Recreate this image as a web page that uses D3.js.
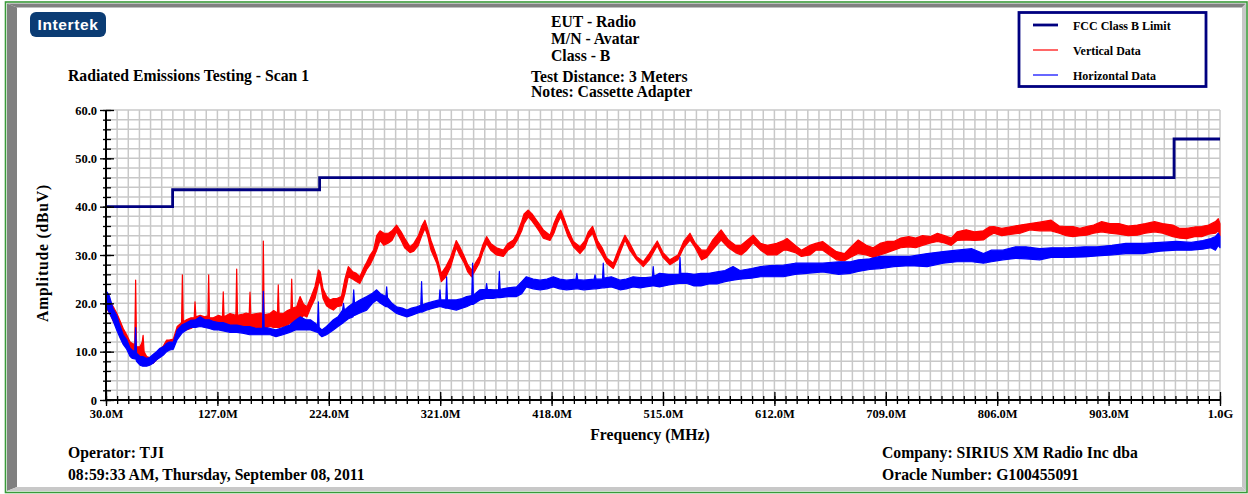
<!DOCTYPE html>
<html>
<head>
<meta charset="utf-8">
<script src="https://cdn.jsdelivr.net/npm/d3@7"></script>
<style>
  body { margin: 0; background: #fff; }
  svg text { font-family: "Liberation Serif", "Times New Roman", serif; font-weight: bold; fill: #000; }
</style>
</head>
<body>
<svg id="chart" width="1248" height="494"></svg>
<script>
// FCC Class B limit, dBuV, step after each frequency (MHz)
const limitFreq = [30, 88, 216, 960, 1000];
const limitLevel = [40, 43.5, 46, 54, 54];

// [MHz, low dBuV, high dBuV] envelope of the vertical scan
const verticalData = [
  [30,19.3,22.0],[31,18.8,21.8],[33,18.0,20.8],[35,17.0,19.8],[37,16.0,19.0],[39.3,15.2,18.0],[42,14.0,16.5],[45,12.8,14.8],
  [48,11.5,13.5],[51,10.3,12.0],[53,10.0,11.7],[55,9.7,11.5],[55.8,10.0,24.8],[56.6,9.5,11.0],[59.6,9.0,11.0],[61.5,8.8,12.0],
  [62.3,8.8,13.4],[63.2,8.2,10.0],[65.4,7.6,9.0],[68,7.4,8.8],[71,7.6,8.6],[74,8.3,9.6],[77,9.0,10.5],[80,9.7,11.2],
  [82.8,11.0,12.4],[85,10.8,12.4],[88.6,11.0,12.6],[92,13.8,15.2],[95.8,14.5,16.0],[96.5,14.5,25.9],[97.3,14.5,16.2],[100,14.5,16.6],
  [104,14.8,17.0],[106.8,15.2,17.0],[107.5,15.2,20.3],[108.3,15.2,17.2],[112,15.5,17.5],[116,15.2,17.2],[118.7,15.2,17.4],[119.4,15.2,25.9],
  [120.1,15.2,17.0],[123.4,15.0,17.0],[128,15.0,17.5],[131.4,15.0,17.2],[132.1,15.0,22.4],[132.8,15.0,17.2],[138,14.5,17.9],[143.1,15.0,17.5],
  [143.8,15.0,27.1],[144.5,15.0,17.5],[149.6,15.2,17.8],[152,15.0,18.0],[154.7,15.0,17.8],[155.4,15.0,22.3],[156.1,15.0,17.6],[161,14.5,17.9],
  [164,14.5,18.0],[166.3,14.8,18.0],[167,15.0,32.9],[167.7,14.8,17.6],[172.8,15.2,17.9],[176,15.0,18.5],[179.3,15.0,18.0],[180,15.0,23.8],
  [180.7,15.0,18.0],[184.4,15.2,17.9],[188,15.5,18.5],[191,16.0,18.8],[191.7,16.0,25.0],[192.4,16.0,19.0],[196,16.6,19.3],[199,16.5,21.4],
  [202,17.5,19.8],[205,17.2,19.3],[208,19.0,21.0],[212,21.0,23.5],[215,24.0,26.9],[216.5,24.5,26.5],[219,21.0,23.0],[222,19.5,21.5],
  [225,19.0,20.7],[228,18.6,21.0],[231,19.3,21.0],[235,19.5,21.4],[238,22.0,25.0],[241,25.5,27.6],[245,25.0,26.5],[248,24.5,26.2],
  [251,24.1,25.5],[255,26.0,27.6],[257,27.0,28.5],[260,28.0,30.0],[263,29.5,31.0],[265.7,31.0,34.0],[268.6,33.0,35.0],[272,32.0,34.5],
  [276,32.5,34.5],[279,33.0,35.0],[283,34.8,36.2],[287,33.0,34.8],[290,31.5,33.5],[294.7,30.5,31.7],[298,30.8,32.4],[302,32.0,34.0],
  [305,34.0,36.0],[307.7,35.5,37.2],[310,34.0,35.5],[313,31.0,33.0],[318,28.3,29.7],[322,24.5,26.2],[326,25.5,27.6],[330,27.5,29.5],
  [335,31.5,33.0],[338,30.0,31.7],[342,28.3,29.7],[345,26.5,28.0],[348.4,25.5,26.9],[352,27.0,28.5],[355,28.3,29.7],[358,30.5,32.0],
  [361.4,32.4,33.8],[365,31.0,32.4],[370,30.0,31.5],[376,29.7,31.0],[380,31.0,32.4],[384.7,31.7,33.1],[388,33.0,34.5],[392,35.0,37.0],
  [394,36.5,38.5],[397.7,37.9,39.3],[401,37.0,38.5],[404,36.0,37.5],[407,35.0,36.5],[410.8,33.5,35.2],[416.6,33.0,34.1],[420,34.5,36.5],
  [423,36.5,38.2],[425.9,37.9,39.3],[429,36.0,37.5],[432,34.0,35.5],[437,31.7,32.8],[442.7,30.3,31.7],[447,31.5,33.0],[450,33.5,34.8],
  [453.7,34.5,35.9],[458,31.5,33.0],[462,30.0,31.5],[466,28.3,29.4],[471.7,27.2,28.3],[476,29.5,31.0],[481.9,33.1,34.1],[486,31.0,32.4],
  [492,29.0,29.7],[497.8,27.6,28.6],[503,29.0,30.3],[510,31.9,32.9],[515,29.5,30.5],[521,28.0,29.0],[528,29.0,30.0],[533,31.5,32.8],
  [538.5,33.1,34.5],[543,31.5,32.5],[548.5,29.0,31.0],[553,29.5,31.0],[558,31.0,33.0],[565.6,33.1,35.2],[572,31.5,33.1],[578,30.5,32.0],
  [583,30.0,32.0],[588,31.0,33.0],[593.5,32.5,34.1],[600,31.0,32.4],[606,30.0,32.0],[614,30.0,32.4],[620,31.0,33.0],[623,31.0,33.4],
  [630,30.5,32.0],[635.5,29.7,31.0],[643,30.0,32.0],[648,31.0,32.4],[654,31.0,32.8],[660,30.0,31.7],[666,29.0,30.7],[673,28.8,30.3],
  [678,29.5,31.5],[685,30.3,33.1],[692,30.0,32.0],[698,29.5,31.5],[704,30.0,32.4],[710,30.5,32.8],[716,31.0,32.8],[722,31.5,33.5],
  [729,31.7,33.8],[735,31.5,33.5],[741,32.0,34.0],[748,32.5,33.8],[754,32.8,34.5],[760,32.5,34.0],[766,32.0,33.5],[771,33.0,34.8],
  [779,33.1,35.2],[786,33.0,34.8],[794,33.1,35.0],[799,34.0,35.8],[803,34.5,35.9],[810,34.0,35.5],[819,34.3,35.9],[826,34.5,36.2],
  [834.5,35.2,36.5],[843,35.0,36.8],[853,35.0,37.2],[860,34.5,36.0],[866,34.0,35.9],[872,33.8,35.9],[878,34.0,35.5],[884,34.1,35.9],
  [890,34.5,36.2],[897,34.8,36.9],[904,34.5,36.5],[912,34.3,36.5],[920,34.0,36.0],[928,34.1,36.2],[935,34.5,36.5],[943,34.8,36.9],
  [950,34.5,36.5],[959,33.8,36.2],[965,33.5,35.5],[971,33.4,35.5],[978,33.8,35.8],[984,33.8,35.9],[990,34.3,36.2],[996,34.5,36.9],
  [998.5,35.0,37.5],[1000,34.0,36.5]
];

// [MHz, low dBuV, high dBuV] envelope of the horizontal scan
const horizontalData = [
  [30,19.5,22.0],[31,19.0,22.3],[33,18.0,21.5],[36,16.5,19.0],[39.3,14.5,17.5],[42,13.0,15.5],[45,11.5,13.5],[48,10.5,12.5],
  [51,9.0,10.7],[53,8.6,10.3],[55,8.5,10.0],[55.8,8.6,15.0],[56.6,8.0,9.7],[59.6,7.2,9.0],[62,7.0,9.0],[65.4,7.0,8.6],
  [68,7.2,8.8],[71,7.6,9.4],[74,8.3,10.0],[77,8.8,10.7],[80,9.3,11.0],[82.8,10.0,11.7],[85,10.3,12.0],[88.6,10.5,12.0],
  [92,12.5,14.5],[96,13.8,15.5],[100,14.5,16.0],[104,15.0,16.5],[108,15.0,16.6],[112,15.2,17.2],[116,15.0,16.6],[120,14.8,16.6],
  [124,14.5,16.2],[128,14.5,16.0],[132,14.3,16.0],[138,14.0,15.5],[144,14.0,15.5],[150,13.8,15.2],[155,13.5,15.2],[161,13.5,14.8],
  [166.3,13.5,14.8],[167,13.5,22.5],[167.7,13.5,15.0],[173,13.5,14.8],[178,13.1,14.5],[184,13.5,15.0],[190,14.0,15.5],[195,14.5,16.5],
  [199,14.5,17.2],[204,14.5,16.6],[208,14.5,16.6],[214.2,14.0,15.5],[214.9,14.0,20.3],[215.6,13.6,15.0],[218,13.1,14.5],[222,13.5,15.2],
  [228,14.5,16.6],[232,15.2,17.2],[236,15.9,18.6],[236.8,16.0,20.0],[237.6,16.2,18.6],[241,16.8,19.3],[245,17.2,20.0],[245.7,17.5,22.8],
  [246.4,17.5,20.0],[251,18.0,20.7],[257,18.6,21.4],[262,20.0,22.1],[265.7,20.7,22.8],[269,20.0,22.0],[273.7,19.3,21.4],[274.4,19.3,23.4],
  [275.1,19.3,21.2],[279,18.6,20.0],[283,17.9,19.3],[288,17.5,19.0],[292,17.2,18.6],[296,17.5,19.0],[300.5,17.9,19.3],[304.1,18.2,19.6],
  [304.8,18.2,24.5],[305.5,18.2,19.7],[309,18.6,20.0],[315,19.0,20.4],[320.1,19.3,20.7],[320.8,19.3,22.8],[321.5,19.3,20.7],[325.9,19.0,20.7],
  [326.6,19.0,25.5],[327.3,19.0,20.7],[335,18.6,20.7],[340,19.0,21.0],[344,19.3,21.4],[348.5,19.8,21.6],[349.2,19.8,28.3],[349.9,19.8,21.7],
  [355.6,20.7,22.8],[360.7,21.0,22.9],[361.4,21.0,24.1],[362.1,21.0,22.9],[367,21.0,22.8],[371.8,21.2,22.8],[372.5,21.2,26.6],[373.2,21.2,22.9],
  [380,21.4,23.2],[387.5,21.4,23.4],[392,22.0,24.5],[396,23.4,25.5],[402,23.0,25.0],[408,22.8,24.8],[414,23.0,25.0],[419.5,23.4,25.5],
  [425,23.0,25.0],[431,22.8,24.8],[439.2,23.0,25.0],[440,23.0,26.2],[440.8,23.0,24.9],[446,22.8,24.8],[455,23.0,25.0],[455.8,23.0,25.9],
  [456.6,23.0,25.0],[462.3,23.2,25.0],[463,23.2,28.3],[463.7,23.2,25.2],[470,23.4,25.5],[477.5,22.8,24.8],[483,23.0,25.0],[489,23.4,25.5],
  [495,23.2,25.3],[500,23.4,25.3],[505.8,23.6,25.5],[506.5,23.6,27.6],[507.2,23.6,25.6],[512,23.4,26.2],[520,23.8,26.0],[529.1,24.1,26.0],
  [529.8,24.1,29.5],[530.5,24.1,26.2],[536,24.1,26.2],[542,23.6,26.0],[548,23.6,26.2],[555,24.0,26.2],[562,24.0,26.5],[569,24.5,26.8],
  [576,24.8,27.6],[582,25.0,26.8],[592,25.2,27.2],[600,25.5,27.6],[608,25.5,27.8],[620,25.5,27.9],[630,26.0,28.3],[640,26.2,28.3],
  [654,26.5,28.3],[668,26.0,28.6],[678,26.2,28.6],[685,26.6,29.0],[695,27.0,29.2],[704,27.2,29.7],[716,27.6,29.7],[730,27.8,29.7],
  [745,27.6,30.3],[759,28.3,30.7],[771,28.6,31.0],[784,28.6,31.3],[794,28.3,30.3],[801,28.6,31.0],[811,29.0,31.0],[822,29.3,31.7],
  [831,29.2,31.7],[843,29.0,31.3],[853,29.5,31.5],[867,29.5,31.5],[882,29.6,31.7],[893,29.8,31.7],[906,30.0,32.0],[918,30.3,32.4],
  [933,30.3,32.4],[948,30.8,32.6],[962,31.0,32.8],[975,31.0,32.6],[985,31.2,33.0],[992,31.5,33.4],[996,31.0,33.8],[998.5,32.0,34.5],
  [1000,31.5,33.8]
];

const xTickValues = [30, 127, 224, 321, 418, 515, 612, 709, 806, 903, 1000];
const xTickLabels = ["30.0M","127.0M","224.0M","321.0M","418.0M","515.0M","612.0M","709.0M","806.0M","903.0M","1.0G"];
const yTickValues = [0, 10, 20, 30, 40, 50, 60];
const yTickLabels = ["0","10.0","20.0","30.0","40.0","50.0","60.0"];

const legendItems = ["FCC Class B Limit", "Vertical Data", "Horizontal Data"];
const legendColors = ["#000080", "#ff0000", "#0000ff"];
const headerCenter = ["EUT - Radio", "M/N - Avatar", "Class - B"];
const headerNotes = ["Test Distance: 3 Meters", "Notes: Cassette Adapter"];

const svg = d3.select("#chart");
const W = 1248, H = 494;
const plot = { left: 106, right: 1220, top: 110, bottom: 400 };
const textSize = "15.7px";

// frame: green outline with sunken bevel
svg.append("rect").attr("width", W).attr("height", H).attr("fill", "#fff");
svg.append("polygon").attr("points", "7,3.5 1246,3.5 1242,7.5 17,7.5").attr("fill", "#808080");
svg.append("polygon").attr("points", "7,3.5 17,7.5 17,487 7,491").attr("fill", "#808080");
svg.append("polygon").attr("points", "7,491 17,487 1242,487 1246,491").attr("fill", "#c8c8c8");
svg.append("polygon").attr("points", "1246,3.5 1246,491 1242,487 1242,7.5").attr("fill", "#c8c8c8");
svg.append("rect").attr("x", 5.5).attr("y", 2).attr("width", 1241.5).attr("height", 490.5)
  .attr("fill", "none").attr("stroke", "#3a9a3a").attr("stroke-width", 1.6);

// logo
svg.append("rect").attr("x", 30).attr("y", 12).attr("width", 76).attr("height", 25).attr("rx", 6)
  .attr("fill", "#0b3c74");
svg.append("text").attr("x", 68).attr("y", 30).attr("text-anchor", "middle")
  .style("font-family", "'Liberation Sans', Arial, sans-serif").style("font-size", "15.5px")
  .style("fill", "#fff").style("letter-spacing", "0.6px").text("Intertek");

// headings
svg.append("text").attr("x", 68).attr("y", 81).style("font-size", textSize).text("Radiated Emissions Testing - Scan 1");
svg.selectAll(".hc").data(headerCenter).join("text").attr("class", "hc")
  .attr("x", 551).attr("y", (d, i) => 27 + i * 17).style("font-size", textSize).text(d => d);
svg.selectAll(".hn").data(headerNotes).join("text").attr("class", "hn")
  .attr("x", 531).attr("y", (d, i) => 82 + i * 15).style("font-size", textSize).text(d => d);

// footer
svg.append("text").attr("x", 68).attr("y", 458).style("font-size", textSize).text("Operator: TJI");
svg.append("text").attr("x", 68).attr("y", 480).style("font-size", textSize).text("08:59:33 AM, Thursday, September 08, 2011");
svg.append("text").attr("x", 882).attr("y", 458).style("font-size", textSize).text("Company: SIRIUS XM Radio Inc dba");
svg.append("text").attr("x", 882).attr("y", 480).style("font-size", textSize).text("Oracle Number: G100455091");

const x = d3.scaleLinear().domain([30, 1000]).range([plot.left, plot.right]);
const y = d3.scaleLinear().domain([0, 60]).range([plot.bottom, plot.top]);

// grid
const grid = svg.append("g").attr("stroke", "#c8c8c8").attr("stroke-width", 1.5);
grid.selectAll(".gv").data(d3.range(1, 101)).join("line")
  .attr("x1", i => x(30 + i * 9.7)).attr("x2", i => x(30 + i * 9.7))
  .attr("y1", plot.top).attr("y2", plot.bottom);
grid.selectAll(".gh").data(d3.range(1, 31)).join("line")
  .attr("x1", plot.left).attr("x2", plot.right)
  .attr("y1", i => y(i * 2)).attr("y2", i => y(i * 2));

// traces
const band = d3.area().x(d => x(d[0])).y0(d => y(d[1])).y1(d => y(d[2]));
svg.append("path").datum(verticalData).attr("d", band)
  .attr("fill", "#ff0000").attr("stroke", "#ff0000").attr("stroke-width", 1.2).attr("stroke-linejoin", "round");
svg.append("path").datum(horizontalData).attr("d", band)
  .attr("fill", "#0000ff").attr("stroke", "#0000ff").attr("stroke-width", 1.2).attr("stroke-linejoin", "round");

// limit
const limitLine = d3.line().x(d => x(d[0])).y(d => y(d[1])).curve(d3.curveStepAfter);
svg.append("path").datum(limitFreq.map((f, i) => [f, limitLevel[i]])).attr("d", limitLine)
  .attr("fill", "none").attr("stroke", "#000080").attr("stroke-width", 2.8);

// axes: ticks cross the axis line
const minorX = d3.range(0, 101).map(i => 30 + i * 9.7);
const minorY = d3.range(0, 31).map(i => i * 2);
function styleAxis(g) {
  g.select(".domain").remove();
  g.selectAll(".tick line").attr("stroke", "#000").attr("stroke-width", 1.3);
}
svg.append("g").attr("transform", `translate(0,${plot.bottom})`)
  .call(d3.axisBottom(x).tickValues(minorX).tickSize(4).tickFormat("")).call(styleAxis);
svg.append("g").attr("transform", `translate(0,${plot.bottom})`)
  .call(d3.axisTop(x).tickValues(minorX).tickSize(4).tickFormat("")).call(styleAxis);
svg.append("g").attr("transform", `translate(0,${plot.bottom})`)
  .call(d3.axisTop(x).tickValues(xTickValues).tickSize(8).tickFormat("")).call(styleAxis);
const xAxis = svg.append("g").attr("transform", `translate(0,${plot.bottom})`)
  .call(d3.axisBottom(x).tickValues(xTickValues).tickSize(6).tickPadding(3)
    .tickFormat((d, i) => xTickLabels[i])).call(styleAxis);
xAxis.selectAll("text").style("font-size", "12.5px").style("font-family", "'Liberation Serif', serif");

svg.append("g").attr("transform", `translate(${plot.left},0)`)
  .call(d3.axisLeft(y).tickValues(minorY).tickSize(3).tickFormat("")).call(styleAxis);
svg.append("g").attr("transform", `translate(${plot.left},0)`)
  .call(d3.axisRight(y).tickValues(minorY).tickSize(5).tickFormat("")).call(styleAxis);
svg.append("g").attr("transform", `translate(${plot.left},0)`)
  .call(d3.axisRight(y).tickValues(yTickValues).tickSize(8).tickFormat("")).call(styleAxis);
const yAxis = svg.append("g").attr("transform", `translate(${plot.left},0)`)
  .call(d3.axisLeft(y).tickValues(yTickValues).tickSize(6).tickPadding(3)
    .tickFormat((d, i) => yTickLabels[i])).call(styleAxis);
yAxis.selectAll("text").style("font-size", "12.5px").style("font-family", "'Liberation Serif', serif");

svg.append("line").attr("x1", plot.left).attr("x2", plot.right).attr("y1", plot.bottom).attr("y2", plot.bottom)
  .attr("stroke", "#000").attr("stroke-width", 2);
svg.append("line").attr("x1", plot.left).attr("x2", plot.left).attr("y1", plot.top).attr("y2", plot.bottom)
  .attr("stroke", "#000").attr("stroke-width", 2);

// axis titles
svg.append("text").attr("x", 650).attr("y", 440).attr("text-anchor", "middle")
  .style("font-size", textSize).text("Frequency (MHz)");
svg.append("text").attr("transform", `translate(48,253) rotate(-90)`)
  .attr("text-anchor", "middle").style("font-size", textSize).style("letter-spacing", "0.8px")
  .text("Amplitude (dBuV)");

// legend
const legend = svg.append("g");
legend.append("rect").attr("x", 1019).attr("y", 12.5).attr("width", 187).attr("height", 74)
  .attr("fill", "#fff").attr("stroke", "#000080").attr("stroke-width", 2.8);
legend.selectAll("line").data(legendItems).join("line")
  .attr("x1", 1033).attr("x2", 1058).attr("y1", (d, i) => 25 + i * 25).attr("y2", (d, i) => 25 + i * 25)
  .attr("stroke", (d, i) => legendColors[i]).attr("stroke-width", (d, i) => i === 0 ? 2.8 : 1.2);
legend.selectAll("text").data(legendItems).join("text")
  .attr("x", 1073).attr("y", (d, i) => 29.5 + i * 25).style("font-size", "12px").text(d => d);
</script>
</body>
</html>
